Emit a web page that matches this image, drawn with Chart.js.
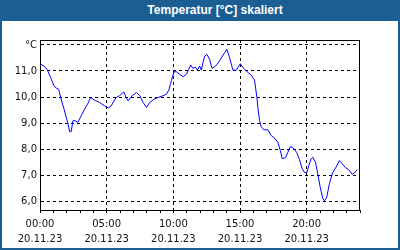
<!DOCTYPE html>
<html><head><meta charset="utf-8">
<script src="https://cdn.jsdelivr.net/npm/chart.js@4"></script>
<style>
html,body{margin:0;padding:0;background:#fff}
#frame{position:relative;width:400px;height:250px;overflow:hidden;background:#fff}
#title{position:absolute;left:0;top:0;width:400px;height:21px;background:#1b5e93;color:#fff;font:bold 12px "Liberation Sans",Arial,sans-serif;line-height:21px;text-align:center;padding-left:30px;box-sizing:border-box;z-index:2}
.edge{position:absolute;background:#1b5e93;z-index:2}
canvas{position:absolute;left:0;top:0}
</style></head>
<body>
<div id="frame">
<canvas id="c" width="400" height="250"></canvas>
<div id="title">Temperatur [°C] skaliert</div>
<div class="edge" style="left:0;top:0;width:2px;height:250px"></div>
<div class="edge" style="right:0;top:0;width:2px;height:250px"></div>
<div class="edge" style="left:0;bottom:0;width:400px;height:2px"></div>
</div>
<script>
// Data (hours since 00:00, temperature °C)
const hours = [0.05,0.30,0.55,0.80,1.05,1.22,1.40,1.55,1.80,1.97,2.10,2.22,2.34,2.47,2.64,2.84,3.09,3.35,3.59,3.79,4.09,4.47,4.84,5.14,5.34,5.71,5.97,6.29,6.46,6.61,6.91,7.24,7.49,7.73,7.99,8.23,8.56,8.85,9.23,9.48,9.66,9.86,10.05,10.23,10.48,10.73,10.98,11.15,11.30,11.47,11.65,11.80,11.98,12.10,12.22,12.35,12.52,12.72,12.90,13.17,13.42,13.68,13.85,14.02,14.22,14.47,14.72,14.84,15.02,15.22,15.42,15.67,15.85,16.09,16.27,16.34,16.47,16.59,16.79,17.09,17.34,17.59,17.84,18.02,18.17,18.41,18.59,18.79,19.01,19.26,19.46,19.66,19.84,20.01,20.16,20.34,20.46,20.66,20.83,21.01,21.21,21.33,21.51,21.71,21.95,22.21,22.46,22.66,22.90,23.15,23.41,23.58,23.78];
const temps = [11.26,11.19,11.04,10.74,10.43,10.34,10.30,9.98,9.54,9.22,8.97,8.67,8.67,9.09,9.09,9.03,9.28,9.54,9.75,9.98,9.88,9.79,9.66,9.58,9.66,9.98,10.05,10.20,9.98,9.85,10.05,10.17,10.05,9.79,9.60,9.79,9.92,9.98,10.05,10.11,10.26,10.64,10.97,10.97,10.87,10.78,10.87,11.06,11.23,11.10,11.15,11.03,11.19,11.03,11.32,11.57,11.64,11.45,11.10,11.19,11.35,11.57,11.70,11.83,11.51,11.03,11.03,11.13,11.28,11.13,11.03,10.91,10.84,10.64,9.98,9.60,9.09,8.86,8.74,8.74,8.52,8.42,8.26,7.95,7.63,7.67,7.88,8.10,8.03,7.86,7.60,7.25,7.10,7.10,7.37,7.63,7.69,7.50,7.06,6.55,6.10,6.01,6.16,6.68,7.10,7.31,7.56,7.44,7.29,7.21,7.03,7.08,7.21];
const yTickValues = [6,7,8,9,10,11,12];
const yUnitLabel = '°C';
const xLabelHours = [0,5,10,15,20];
const dateLabel = '20.11.23';

const frame = {
  id:'frame',
  afterDatasetsDraw(chart){
    const {ctx, chartArea:a} = chart;
    ctx.save();
    ctx.strokeStyle = '#000';
    ctx.lineWidth = 1;
    ctx.strokeRect(Math.round(a.left)+0.5, Math.round(a.top)+0.5, Math.round(a.right-a.left)-1, Math.round(a.bottom-a.top));
    ctx.restore();
  }
};

new Chart(document.getElementById('c'), {
  type:'line',
  data:{datasets:[{
    data: hours.map((h,i)=>({x:h,y:temps[i]})),
    borderColor:'#0000ff', borderWidth:1, pointRadius:0, tension:0, fill:false
  }]},
  options:{
    responsive:false, animation:false,
    layout:{padding:{left:0,right:40,top:40,bottom:0}},
    plugins:{legend:{display:false},tooltip:{enabled:false}},
    scales:{
      x:{type:'linear',min:0,max:24,
        afterFit(s){s.height=40;},
        ticks:{stepSize:1,autoSkip:false,maxRotation:0,padding:4,color:'#111',
          font:{family:'DejaVu Sans',size:10,lineHeight:1.5},
          callback(v){ if(xLabelHours.includes(v)) return [String(v).padStart(2,'0')+':00', dateLabel]; return ''; }},
        grid:{drawTicks:true,tickLength:3,tickColor:'#000',
          color:(c)=> (c.tick && xLabelHours.includes(c.tick.value) && c.tick.value!==0) ? '#000' : 'rgba(0,0,0,0)'},
        border:{display:true,color:'#000',width:1,dash:[3,3]}
      },
      y:{type:'linear',min:5.66,max:12.19,
        afterFit(s){s.width=40;},
        afterBuildTicks(s){s.ticks = yTickValues.map(v=>({value:v}));},
        ticks:{padding:3,color:'#111',font:{family:'DejaVu Sans',size:10},
          callback(v){ return v===12 ? yUnitLabel : v.toFixed(1).replace('.',','); }},
        grid:{drawTicks:false,color:'#000'},
        border:{display:true,color:'#000',width:1,dash:[3,3]}
      }
    }
  },
  plugins:[frame]
});
</script>
</body></html>
